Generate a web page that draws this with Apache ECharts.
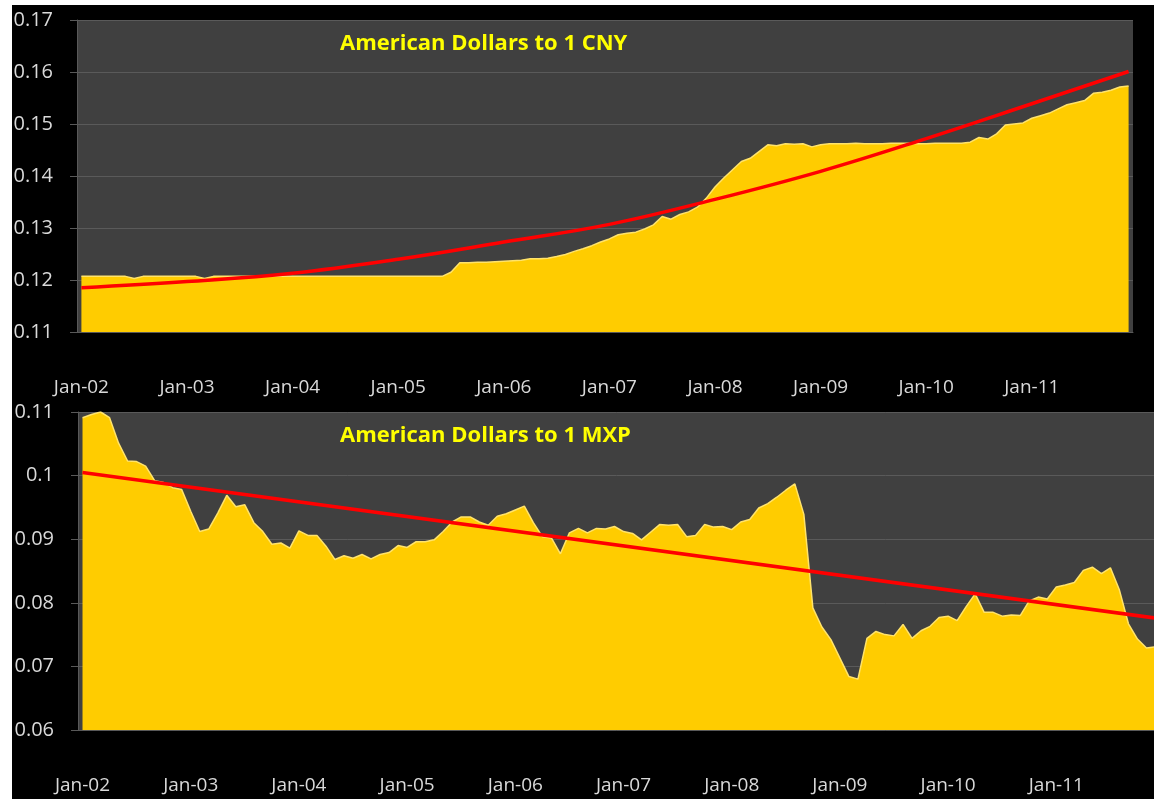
<!DOCTYPE html>
<html>
<head>
<meta charset="utf-8">
<script src="https://cdn.jsdelivr.net/npm/echarts@6/dist/echarts.min.js"></script>
<style>
  html, body { margin: 0; padding: 0; background: #fff; }
  #chart { position: absolute; left: 12px; top: 5px; width: 1142px; height: 794px; }
</style>
</head>
<body>
<div id="chart"></div>
<script>
// x axis: monthly points Jan-02 .. Dec-11
const months = ['Jan', 'Feb', 'Mar', 'Apr', 'May', 'Jun', 'Jul', 'Aug', 'Sep', 'Oct', 'Nov', 'Dec']
const years = ['02', '03', '04', '05', '06', '07', '08', '09', '10', '11']
const categories = []
years.forEach((y) => months.forEach((m) => categories.push(m + '-' + y)))

// US dollars for 1 CNY
const cny = [
  0.1207, 0.1207, 0.1207, 0.1207, 0.1207, 0.1207, 0.1203, 0.1207, 0.1207, 0.1207, 0.1207, 0.1207,
  0.1207, 0.1207, 0.1203, 0.1207, 0.1207, 0.1207, 0.1207, 0.1207, 0.1207, 0.1207, 0.1207, 0.1207,
  0.1207, 0.1207, 0.1207, 0.1207, 0.1207, 0.1207, 0.1207, 0.1207, 0.1207, 0.1207, 0.1207, 0.1207,
  0.1207, 0.1207, 0.1207, 0.1207, 0.1207, 0.1207, 0.1215, 0.1233, 0.1233, 0.1234, 0.1234, 0.1235,
  0.1236, 0.1237, 0.1238, 0.1241, 0.1241, 0.1242, 0.1245, 0.1249, 0.1255, 0.1260, 0.1266, 0.1273,
  0.1279, 0.1287, 0.1290, 0.1292, 0.1298, 0.1306, 0.1322, 0.1317, 0.1326, 0.1331, 0.1340, 0.1357,
  0.1379, 0.1396, 0.1412, 0.1428, 0.1434, 0.1447, 0.1460, 0.1458, 0.1462, 0.1461, 0.1462, 0.1456,
  0.1460, 0.1462, 0.1462, 0.1462, 0.1463, 0.1462, 0.1462, 0.1462, 0.1463, 0.1463, 0.1463, 0.1462,
  0.1462, 0.1463, 0.1463, 0.1463, 0.1463, 0.1465, 0.1474, 0.1471, 0.1481, 0.1498, 0.1500, 0.1502,
  0.1511, 0.1516, 0.1521, 0.1529, 0.1537, 0.1541, 0.1545, 0.1559, 0.1561, 0.1565, 0.1571, 0.1573
]
// trend curve points [month index, value]
const cnyTrend = [
  [0, 0.1185], [12, 0.1197], [24, 0.1213], [36, 0.1240], [48, 0.1273], [60, 0.1307],
  [72, 0.1355], [84, 0.1409], [96, 0.1472], [108, 0.1539], [119, 0.1601]
]

// US dollars for 1 MXP
const mxp = [
  0.1091, 0.1096, 0.1100, 0.1091, 0.1051, 0.1023, 0.1022, 0.1015, 0.0992, 0.0989, 0.0981, 0.0978,
  0.0944, 0.0912, 0.0916, 0.0941, 0.0969, 0.0951, 0.0954, 0.0926, 0.0912, 0.0892, 0.0894, 0.0886,
  0.0913, 0.0906, 0.0906, 0.0889, 0.0868, 0.0874, 0.0870, 0.0876, 0.0869, 0.0876, 0.0879, 0.0890,
  0.0887, 0.0896, 0.0896, 0.0899, 0.0912, 0.0927, 0.0935, 0.0935, 0.0927, 0.0922, 0.0936, 0.0940,
  0.0946, 0.0952, 0.0926, 0.0904, 0.0902, 0.0877, 0.0910, 0.0917, 0.0910, 0.0917, 0.0916, 0.0920,
  0.0912, 0.0909, 0.0899, 0.0911, 0.0923, 0.0922, 0.0923, 0.0904, 0.0906, 0.0923, 0.0919, 0.0920,
  0.0915, 0.0927, 0.0931, 0.0949, 0.0956, 0.0966, 0.0977, 0.0987, 0.0939, 0.0792, 0.0762, 0.0742,
  0.0713, 0.0684, 0.0680, 0.0744, 0.0755, 0.0750, 0.0748, 0.0766, 0.0744, 0.0756, 0.0763, 0.0777,
  0.0779, 0.0772, 0.0794, 0.0814, 0.0785, 0.0785, 0.0779, 0.0781, 0.0780, 0.0803, 0.0809, 0.0806,
  0.0825, 0.0828, 0.0832, 0.0851, 0.0856, 0.0846, 0.0855, 0.0820, 0.0767, 0.0743, 0.0729, 0.0731
]
const mxpTrend = [[0, 0.1005], [119, 0.0776]]

const titles = ['American Dollars to 1 CNY', 'American Dollars to 1 MXP']

const font = 'Open Sans'
const labelColor = '#d9d9d9'
const gridLineColor = '#5a5a5a'

function xAxis(gridIndex) {
  return {
    type: 'category',
    gridIndex: gridIndex,
    data: categories,
    boundaryGap: true,
    axisLine: { lineStyle: { color: '#595959', width: 1 } },
    axisTick: { interval: 11, length: 6, lineStyle: { color: '#595959' } },
    axisLabel: { interval: 11, margin: 46, color: labelColor, fontSize: 19, fontFamily: font },
    splitLine: { show: false }
  }
}

function yAxis(gridIndex, min, max) {
  return {
    type: 'value',
    gridIndex: gridIndex,
    min: min,
    max: max,
    interval: 0.01,
    axisLine: { show: true, lineStyle: { color: '#595959' } },
    axisTick: { show: true, length: 7, lineStyle: { color: '#595959' } },
    axisLabel: { margin: 24, color: labelColor, fontSize: 20, fontFamily: font },
    splitLine: { lineStyle: { color: gridLineColor, width: 1 } }
  }
}

function areaSeries(idx, data) {
  return {
    type: 'line',
    xAxisIndex: idx,
    yAxisIndex: idx,
    data: data,
    symbol: 'none',
    lineStyle: { color: '#ffe36b', width: 1.5 },
    areaStyle: { color: '#ffcc00', opacity: 1, origin: 'start' },
    z: 2
  }
}

function trendSeries(idx, data, smooth) {
  return {
    type: 'line',
    xAxisIndex: idx,
    yAxisIndex: idx,
    data: data,
    smooth: smooth,
    symbol: 'none',
    lineStyle: { color: '#ff0000', width: 3.5 },
    z: 3
  }
}

const chart = echarts.init(document.getElementById('chart'))
chart.setOption({
  animation: false,
  backgroundColor: '#000',
  title: [
    { text: titles[0], left: 328, top: 28, padding: 0, textStyle: { color: '#ffff00', fontSize: 22, fontWeight: 'bold', fontFamily: font } },
    { text: titles[1], left: 328, top: 420, padding: 0, textStyle: { color: '#ffff00', fontSize: 22, fontWeight: 'bold', fontFamily: font } }
  ],
  grid: [
    { left: 65, top: 15, width: 1056, height: 312, show: true, backgroundColor: '#404040', borderWidth: 0, outerBoundsMode: 'none' },
    { left: 66, top: 407, width: 1082, height: 318, show: true, backgroundColor: '#404040', borderWidth: 0, outerBoundsMode: 'none' }
  ],
  xAxis: [xAxis(0), xAxis(1)],
  yAxis: [yAxis(0, 0.11, 0.17), yAxis(1, 0.06, 0.11)],
  series: [
    areaSeries(0, cny),
    trendSeries(0, cnyTrend, 0.4),
    areaSeries(1, mxp),
    trendSeries(1, mxpTrend, false)
  ]
})
</script>
</body>
</html>
